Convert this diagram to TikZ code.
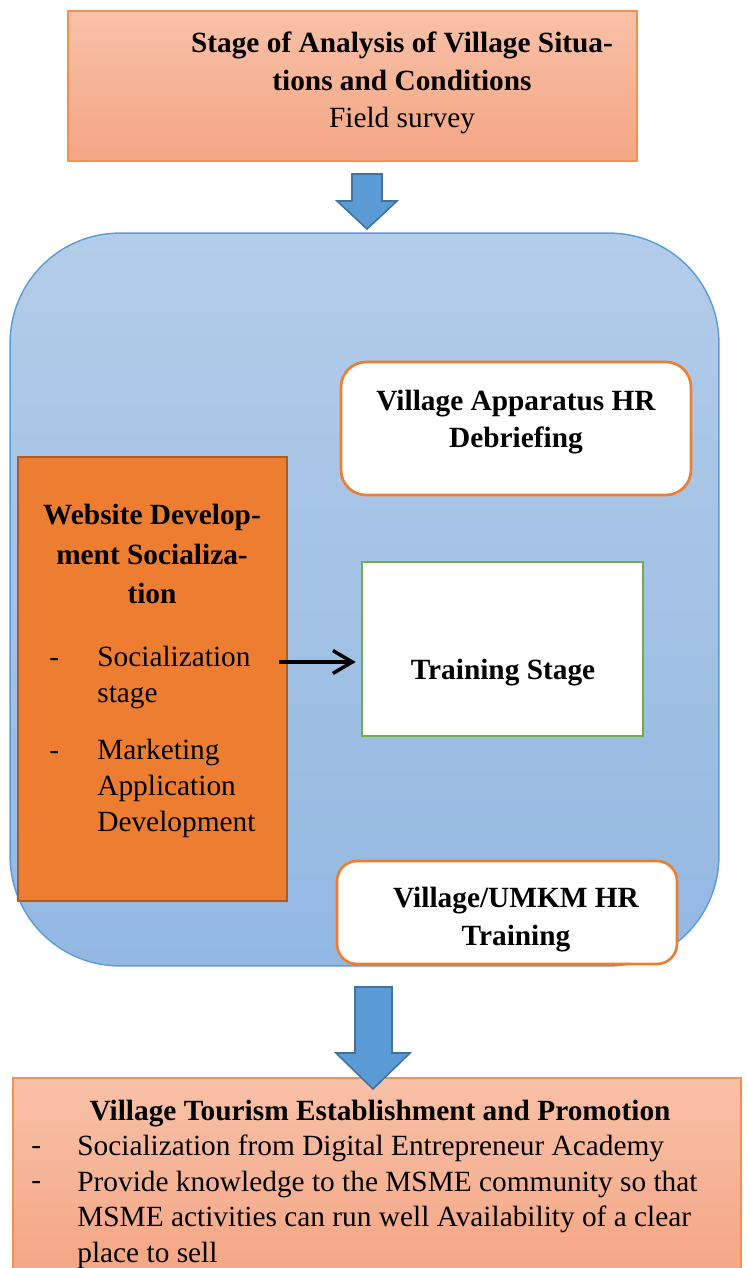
\documentclass[tikz,border=0pt]{standalone}
\usepackage{fontspec}
\setmainfont{Liberation Serif}
\usetikzlibrary{arrows.meta}
\usepackage{xcolor}

\definecolor{salmontop}{HTML}{F8C1A8}
\definecolor{salmonbot}{HTML}{F4A584}
\definecolor{salmonline}{HTML}{F4914F}
\definecolor{skytop}{HTML}{B3CCE9}
\definecolor{skybot}{HTML}{93B8E2}
\definecolor{skyline}{HTML}{5B9BD5}
\definecolor{arrowline}{HTML}{41719C}
\definecolor{orangefill}{HTML}{ED7D31}
\definecolor{orangeline}{HTML}{AE5A21}
\definecolor{greenline}{HTML}{70AD47}

\tikzset{
    salmonbox/.style={draw=salmonline, line width=0.8pt, top color=salmontop, bottom color=salmonbot, inner sep=0pt},
    whitebox/.style={draw=orangefill, line width=1.5pt, fill=white, inner sep=0pt},
    txt/.style={font=\fontsize{16.7}{21}\selectfont, align=center, inner sep=0pt},
    bullet/.style={font=\fontsize{16.7}{20.5}\selectfont, align=left, anchor=west, inner sep=0pt},
    dashmark/.style={font=\fontsize{16.7}{20.5}\selectfont, anchor=base west, inner sep=0pt},
    blockarrow/.style={fill=skyline, draw=arrowline, line width=0.9pt, line join=miter},
}

\begin{document}
\begin{tikzpicture}[x=0.02cm, y=-0.02cm]
    \newcommand\dashx{49}
    \newcommand\itemx{97}

    \useasboundingbox (0,0) rectangle (747,1268);

    % analysis stage
    \node[salmonbox, minimum width=11.38cm, minimum height=3cm] (analysis) at (352.5,86) {};
    \node[txt, font=\fontsize{16.7}{21.3}\selectfont] (analysistext) at (402,83)
        {\textbf{Stage of Analysis of Village Situa-}\\\textbf{tions and Conditions}\\Field survey};

    % big rounded panel
    \node[draw=skyline, line width=0.8pt, top color=skytop, bottom color=skybot, rounded corners=2.2cm,
        minimum width=14.18cm, minimum height=14.66cm, inner sep=0pt] (panel) at (364.5,599.5) {};

    % draw arrow
    \draw[blockarrow] (352,174) -- (382,174) -- (382,201) -- (397,201) -- (367,229)
        -- (337,201) -- (352,201) -- cycle;

    \node[whitebox, rounded corners=0.5cm, minimum width=7cm, minimum height=2.66cm] (debrief) at (516,428.5) {};
    \node[txt, font=\fontsize{16.7}{21.5}\selectfont\bfseries] (debrieftext) at (516,422)
        {Village Apparatus HR\\Debriefing};

    % website socialization
    \node[draw=orangeline, line width=1.2pt, fill=orangefill, minimum width=5.38cm, minimum height=8.88cm,
        inner sep=0pt] (website) at (152.5,679) {};
    \node[txt, font=\fontsize{16.7}{22.7}\selectfont\bfseries] (websitetext) at (152,554)
        {Website Develop-\\ment Socializa-\\tion};
    \node[dashmark] (dasha) at (\dashx,666) {-};
    \node[bullet] (socstage) at (\itemx,677.5) {Socialization\\stage};
    \node[dashmark] (dashb) at (\dashx,759) {-};
    \node[bullet] (marketing) at (\itemx,788) {Marketing\\Application\\Development};

    \node[draw=greenline, line width=1.2pt, fill=white, minimum width=5.62cm, minimum height=3.48cm,
        inner sep=0pt] (training) at (502.5,649) {};
    \node[txt, font=\fontsize{16.7}{21}\selectfont\bfseries] (trainingtext) at (503,673) {Training Stage};

    \coordinate (arrstart) at (279,662);
    \draw[line width=2pt, -{Straight Barb[length=11pt, width=13pt]}] (arrstart) -- ([xshift=-3pt]training.west |- arrstart);

    \node[whitebox, rounded corners=0.4cm, minimum width=6.8cm, minimum height=2.06cm] (umkm) at (507,912.5) {};
    \node[txt, font=\fontsize{16.7}{22}\selectfont\bfseries] (umkmtext) at (516,919.5)
        {Village/UMKM HR\\Training};

    % promotion stage
    \node[salmonbox, minimum width=14.56cm, minimum height=4cm] (promotion) at (377,1178) {};
    \node[txt, font=\fontsize{16.7}{21}\selectfont\bfseries] (promotitle) at (380,1114)
        {Village Tourism Establishment and Promotion};
    \node[dashmark] (dashc) at (31,1154) {-};
    \node[bullet] (academy) at (77,1148) {Socialization from Digital Entrepreneur Academy};
    \node[dashmark] (dashd) at (31,1189) {-};
    \node[bullet, font=\fontsize{16.7}{20.2}\selectfont] (knowledge) at (77,1219.5)
        {Provide knowledge to the MSME community so that\\MSME activities can run well Availability of a clear\\place to sell};

    % draw arrow
    \draw[blockarrow] (355,987) -- (392,987) -- (392,1053) -- (410,1053) -- (373,1089)
        -- (336,1053) -- (355,1053) -- cycle;
\end{tikzpicture}
\end{document}
